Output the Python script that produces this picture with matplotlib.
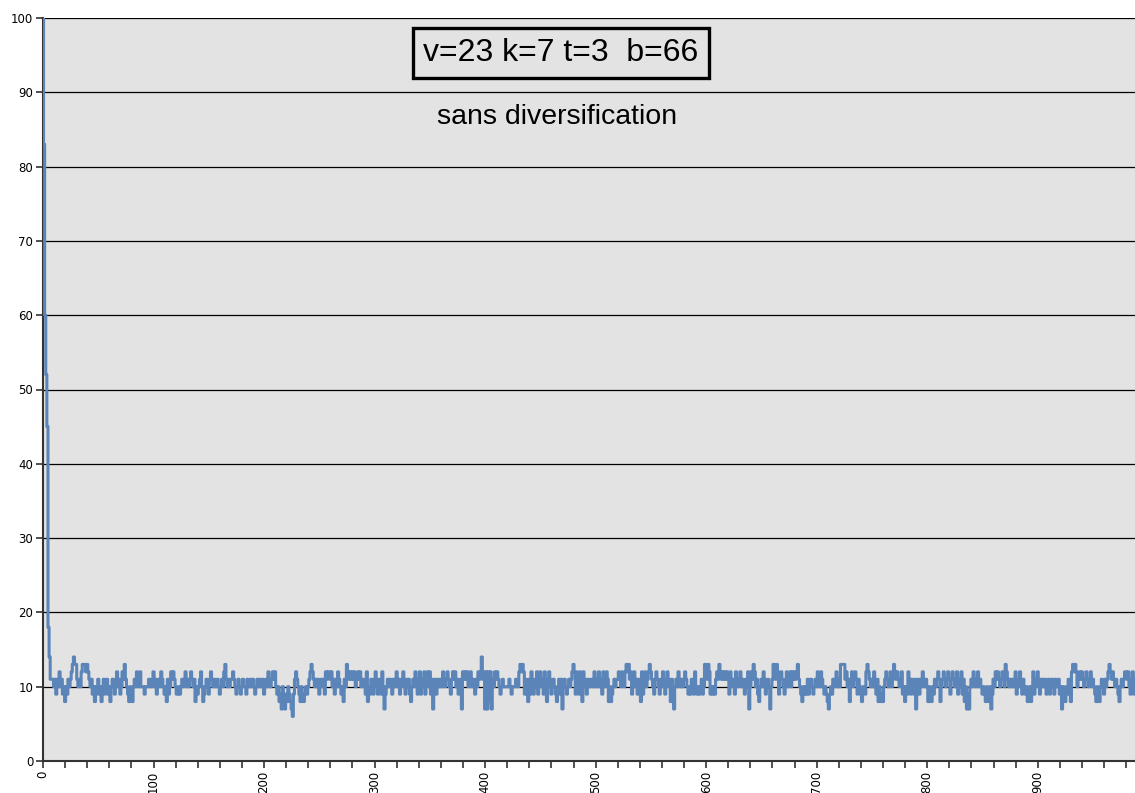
import numpy as np
import matplotlib.pyplot as plt
from matplotlib.ticker import MultipleLocator, FuncFormatter

# Cost per iteration (first iterations: fast descent)
head = [100, 83, 60, 52, 45, 18, 14, 11]

# Remaining iterations, one digit per iteration: value = digit + 5
tail_digits = [
    "6656465756" "4535465678" "9886565788" "8787656453" "5465435645"
    "6453565467" "5645768654" "3543565765" "7555455565" "5675645657"
    "6545364576" "7654454565" "6756567656" "3545675345" "6546765655"
    "6545657865" "6566765456" "5456554655" "6565456565" "5645657656"
    "7675453425" "3243543214" "6765435434" "5456787656" "56",
    "4565647677" "6756465765" "4536587676" "7675676756" "6547354654"
    "6754654752" "4565654656" "7564567546" "5643565764" "6746574675"
    "7462564565" "6576567654" "6767564562" "7676756756" "5465767967"
    "2727372657" "6765456555" "5565455565" "5787874643" "6475465746"
    "7564763576" "4565435646" "2565456567" "8747647637" "6546556",
    "657" "5657564765" "7635345656" "6765765787" "8674675646"
    "5374675678" "7654676546" "5764576536" "5256576565" "6765454654"
    "7545456458" "7687454546" "7687676767" "6476564765" "6756546572"
    "5768756435" "6576456525" "6876874676" "5467567576" "7678654354"
    "5464565456" "5765765454" "3245465675" "6588886756" "3675676465" "4355",
    "478765" "6575463534" "3567656756" "8767656745" "3547646546"
    "2564657656" "5354354656" "7635676567" "6467656746" "5746352425"
    "6576567565" "4543543524" "6576765676" "5876565656" "7456754654"
    "5345357456" "7546565645" "6456546556" "4525435465" "3787875676"
    "7656765675" "6543543565" "4656787676" "5654356567" "7675467456",
]
tail = [int(c) + 5 for chunk in tail_digits for c in chunk]

values = np.array(head + tail)
iterations = np.arange(len(values))

fig = plt.figure(figsize=(11.35, 7.93), dpi=100)
ax = fig.add_axes([43 / 1135, 1 - 761 / 793, 1 - 43 / 1135, (761 - 18) / 793])
ax.set_facecolor("#e3e3e3")

ax.plot(iterations, values, color="#5b84b9", lw=2.2, drawstyle="steps-mid", zorder=3)

ax.set_xlim(0, 988)
ax.set_ylim(0, 100)

ax.yaxis.set_major_locator(MultipleLocator(10))
ax.xaxis.set_major_locator(MultipleLocator(20))
ax.xaxis.set_major_formatter(FuncFormatter(lambda v, p: f"{int(v)}" if int(v) % 100 == 0 else ""))
ax.grid(axis="y", color="black", lw=0.9, zorder=1)
ax.set_axisbelow(True)

for side in ("top", "right"):
    ax.spines[side].set_visible(False)
for side in ("left", "bottom"):
    ax.spines[side].set_color("#333333")
    ax.spines[side].set_linewidth(1.5)

ax.tick_params(axis="both", direction="out", length=5, width=1.2, color="#333333",
               labelsize=8.5, pad=2)
plt.setp(ax.get_xticklabels(), rotation=90)

ax.text(518 / 1092, 1 - 35 / 743, "v=23 k=7 t=3  b=66", transform=ax.transAxes,
        ha="center", va="center", fontsize=23, family="Liberation Sans",
        bbox=dict(boxstyle="square,pad=0.32", facecolor="#e3e3e3",
                  edgecolor="black", linewidth=2.4))
ax.text(514 / 1092, 1 - 99 / 743, "sans diversification", transform=ax.transAxes,
        ha="center", va="center", fontsize=20.5, family="Liberation Sans")

fig.savefig("out.png", dpi=100)
